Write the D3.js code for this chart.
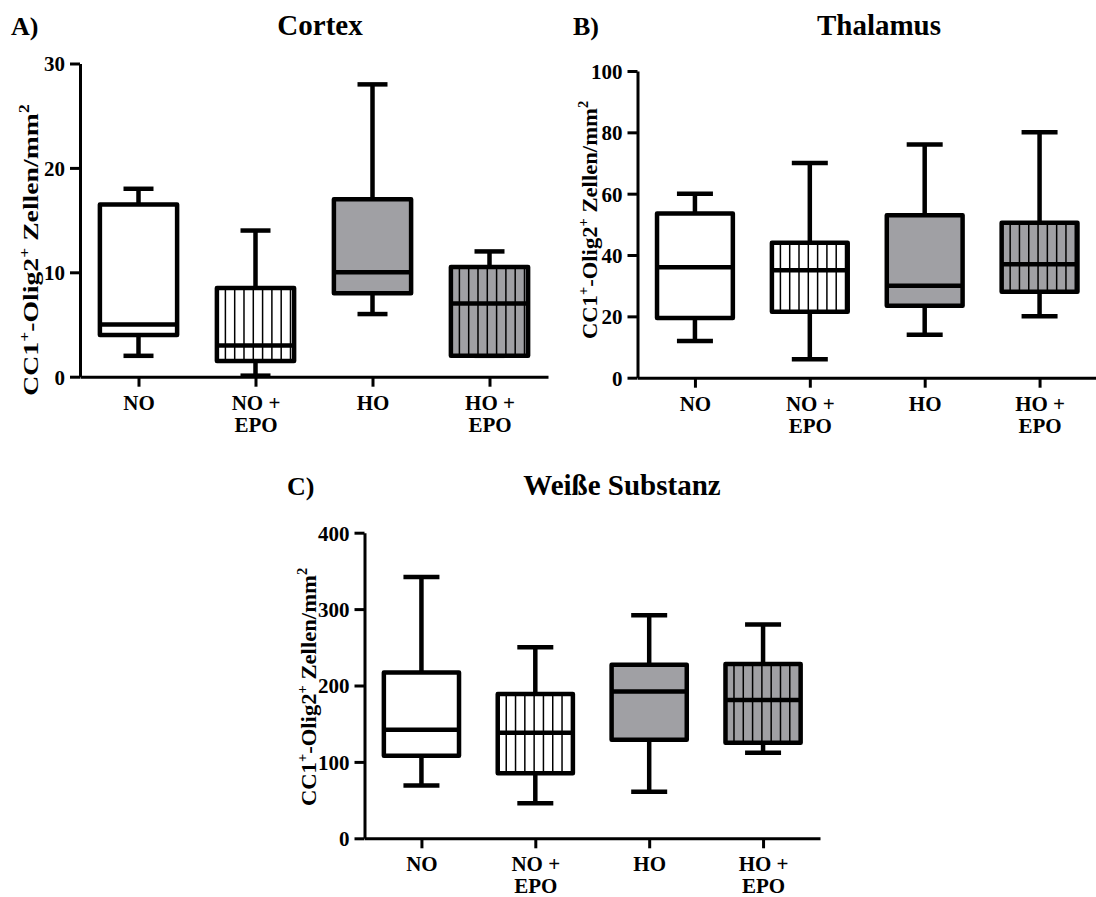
<!DOCTYPE html>
<html>
<head>
<meta charset="utf-8">
<script src="https://cdn.jsdelivr.net/npm/d3@7"></script>
<style>
  body { margin: 0; background: #fff; }
  svg { display: block; }
</style>
</head>
<body>
<svg id="chart" width="1096" height="897"></svg>
<script>
// groups on the x axis
const groups = ["NO", "NO + EPO", "HO", "HO + EPO"];
const grayBox = [false, false, true, true];
const hatched = [false, true, false, true];

// box summaries per group: [min, q1, median, q3, max]
const cortex = [[2, 4, 5, 16.5, 18], [0.1, 1.5, 3, 8.5, 14], [6, 8, 10, 17, 28], [2, 2, 7, 10.5, 12]];
const thalamus = [[12, 19.5, 36, 53.5, 60], [6, 21.5, 35, 44, 70], [14, 23.5, 30, 53, 76], [20, 28, 37, 50.5, 80]];
const weisse = [[69, 108, 142, 217, 342], [46, 85, 138, 189, 250], [61, 129, 192, 227, 292], [112, 125, 181, 228, 280]];

const cortexTicks = [0, 10, 20, 30];
const thalamusTicks = [0, 20, 40, 60, 80, 100];
const weisseTicks = [0, 100, 200, 300, 400];

const FONT = "'Liberation Serif', 'Times New Roman', Tinos, serif";
const svg = d3.select("#chart");

const panels = [
  { letter: "A)", title: "Cortex", data: cortex, ticks: cortexTicks,
    xr: [80, 548], yr: [376.7, 63.5], letterX: 11, titleX: 320, titleY: 35,
    labelX: 38, labelY: 250, stretch: 1.26, cap: 30 },
  { letter: "B)", title: "Thalamus", data: thalamus, ticks: thalamusTicks,
    xr: [637.5, 1097], yr: [377.7, 71], letterX: 573, titleX: 879, titleY: 35,
    labelX: 597, labelY: 220, stretch: 1.03, cap: 36 },
  { letter: "C)", title: "Weiße Substanz", data: weisse, ticks: weisseTicks,
    xr: [364.5, 820], yr: [838.3, 532.7], letterX: 287, titleX: 622, titleY: 495,
    labelX: 316, labelY: 687, stretch: 1.03, cap: 36 }
];

panels.forEach((p) => {
  const g = svg.append("g");

  const x = d3.scalePoint().domain(groups).range(p.xr).padding(0.5);
  const y = d3.scaleLinear().domain([0, d3.max(p.ticks)]).range(p.yr);
  const bw = x.step() * 0.66;

  // titles
  g.append("text").attr("x", p.letterX).attr("y", p.titleY)
    .attr("font-size", 26).text(p.letter);
  g.append("text").attr("x", p.titleX).attr("y", p.titleY)
    .attr("text-anchor", "middle").attr("font-size", 29).text(p.title);

  // y axis label with superscripts
  const lab = g.append("text")
    .attr("transform", `translate(${p.labelX},${p.labelY}) rotate(-90) scale(${p.stretch},1)`)
    .attr("text-anchor", "middle").attr("font-size", 22);
  lab.append("tspan").text("CC1");
  lab.append("tspan").attr("dy", -9).attr("font-size", 14).text("+");
  lab.append("tspan").attr("dy", 9).text("-Olig2");
  lab.append("tspan").attr("dy", -9).attr("font-size", 14).text("+");
  lab.append("tspan").attr("dy", 9).text(" Zellen/mm");
  lab.append("tspan").attr("dy", -9).attr("font-size", 14).text("2");

  // axes
  const yAxis = g.append("g")
    .attr("transform", `translate(${p.xr[0]},0)`)
    .call(d3.axisLeft(y).tickValues(p.ticks).tickSize(10).tickSizeOuter(0).tickPadding(5));
  yAxis.selectAll("text").attr("font-size", 21).attr("dy", "0.35em");
  yAxis.select(".domain").attr("stroke-width", 3);
  yAxis.selectAll(".tick line").attr("stroke-width", 3);

  const xAxis = g.append("g")
    .attr("transform", `translate(0,${p.yr[0]})`)
    .call(d3.axisBottom(x).tickSize(10).tickSizeOuter(0).tickFormat(""));
  xAxis.select(".domain").attr("stroke-width", 3);
  xAxis.selectAll(".tick line").attr("stroke-width", 3);
  xAxis.selectAll(".tick").each(function (d) {
    const parts = d.split(" + ");
    const t = d3.select(this);
    t.append("text").attr("text-anchor", "middle").attr("font-size", 21).attr("y", 33)
      .text(parts.length > 1 ? parts[0] + " +" : parts[0]);
    if (parts.length > 1) {
      t.append("text").attr("text-anchor", "middle").attr("font-size", 21).attr("y", 55)
        .text(parts[1]);
    }
  });

  // boxes
  const boxes = g.selectAll(".box").data(p.data).join("g").attr("class", "box");

  boxes.each(function (d, i) {
    const b = d3.select(this);
    const cx = x(groups[i]);
    const [mn, q1, md, q3, mx] = d;

    // whiskers
    b.append("line").attr("x1", cx).attr("x2", cx).attr("y1", y(mx)).attr("y2", y(q3));
    b.append("line").attr("x1", cx).attr("x2", cx).attr("y1", y(q1)).attr("y2", y(mn));
    b.append("line").attr("x1", cx - p.cap / 2).attr("x2", cx + p.cap / 2).attr("y1", y(mx)).attr("y2", y(mx));
    b.append("line").attr("x1", cx - p.cap / 2).attr("x2", cx + p.cap / 2).attr("y1", y(mn)).attr("y2", y(mn));

    b.append("rect")
      .attr("x", cx - bw / 2).attr("y", y(q3))
      .attr("width", bw).attr("height", y(q1) - y(q3))
      .attr("fill", grayBox[i] ? "#a0a0a4" : "#fff");

    if (hatched[i]) {
      const gap = 9.3;
      for (let hx = cx - bw / 2 + 8.5; hx < cx + bw / 2 - 2; hx += gap) {
        b.append("line").attr("class", "hatch")
          .attr("x1", hx).attr("x2", hx).attr("y1", y(q3)).attr("y2", y(q1));
      }
    }

    // box outline on top of hatching
    b.append("rect")
      .attr("x", cx - bw / 2).attr("y", y(q3))
      .attr("width", bw).attr("height", y(q1) - y(q3))
      .attr("fill", "none").attr("stroke", "#000").attr("stroke-width", 4.5)
      .attr("stroke-linejoin", "round");

    b.append("line").attr("x1", cx - bw / 2).attr("x2", cx + bw / 2).attr("y1", y(md)).attr("y2", y(md));
  });

  boxes.selectAll("line").attr("stroke", "#000").attr("stroke-width", 4.5);
  boxes.selectAll("line.hatch").attr("stroke-width", 1.5);
});

// serif bold everywhere, set inline so the axis defaults do not win
svg.selectAll("text")
  .style("font-family", FONT)
  .style("font-weight", "bold")
  .style("fill", "#000");
</script>
</body>
</html>
